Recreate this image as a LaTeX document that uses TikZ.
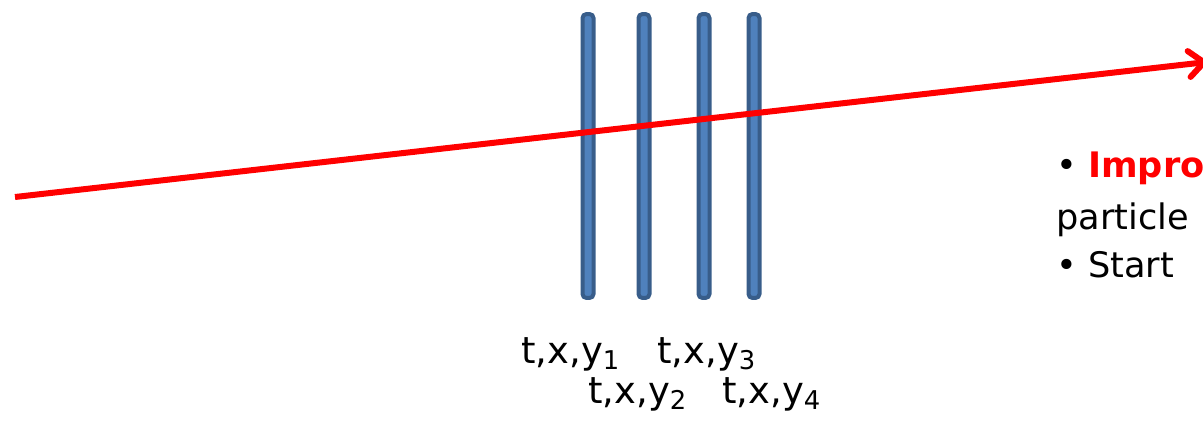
\documentclass[tikz,border=0pt]{standalone}
\usepackage{xcolor}
\usepackage{fontspec}
\setmainfont{DejaVu Sans}
\usetikzlibrary{arrows.meta}
\definecolor{barfill}{HTML}{4F81BD}
\definecolor{barline}{HTML}{385D8A}
\definecolor{track}{HTML}{FF0000}

\begin{document}
\begin{tikzpicture}[x=0.02cm, y=-0.02cm,
  bar/.style={rectangle, draw=barline, fill=barfill, line width=0.08cm, rounded corners=0.08cm, minimum width=0.22cm, minimum height=5.68cm, inner sep=0pt},
  ray/.style={track, line width=0.12cm, -{Straight Barb[length=0.3cm, width=0.52cm, line cap=round, line join=round]}},
  lab/.style={anchor=base west, inner sep=0pt, font=\fontsize{21}{25}\selectfont},
  note/.style={anchor=base west, inner sep=0pt, font=\fontsize{20}{28}\selectfont},
]
  \useasboundingbox (0,0) rectangle (1203,424);
  \clip (0,0) rectangle (1203,424);
  \node[bar] (b1) at (588,156) {};
  \node[bar] (b2) at (644,156) {};
  \node[bar] (b3) at (704,156) {};
  \node[bar] (b4) at (754,156) {};
  \coordinate (start) at (15,197);
  \coordinate (end) at (1207,62);
  \draw[ray] (start) -- (end);
  \node[lab] (l1) at (521,363) {t,x,y\textsubscript{1}};
  \node[lab] (l3) at (657,363) {t,x,y\textsubscript{3}};
  \node[lab] (l2) at (588,403) {t,x,y\textsubscript{2}};
  \node[lab] (l4) at (722,403) {t,x,y\textsubscript{4}};
  \node[note] (n1) at (1056,177) {\textbullet\ \textcolor{track}{\textbf{Improv}}};
  \node[note] (n2) at (1056,229) {particle};
  \node[note] (n3) at (1056,277) {\textbullet\ Start};
\end{tikzpicture}
\end{document}
